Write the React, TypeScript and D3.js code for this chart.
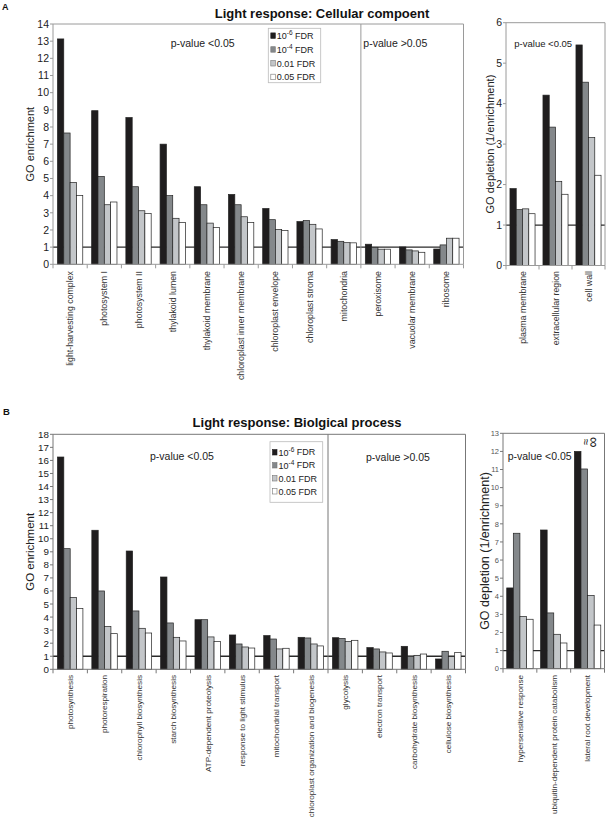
import React from 'react';
import * as d3 from 'd3';

const seriesColors = ['#1f1d1e', '#84888b', '#c3c6c9', '#ffffff'];
const legendTexts = [
  { base: '10', sup: '-6', rest: ' FDR' },
  { base: '10', sup: '-4', rest: ' FDR' },
  { base: '0.01', sup: '', rest: ' FDR' },
  { base: '0.05', sup: '', rest: ' FDR' },
];

// Panel A – cellular component enrichment
const ccCategories = ['light-harvesting complex', 'photosystem I', 'photosystem II', 'thylakoid lumen', 'thylakoid membrane', 'chloroplast inner membrane', 'chloroplast envelope', 'chloroplast stroma', 'mitochondria', 'peroxisome', 'vacuolar membrane', 'ribosome'];
const cc6 = [13.13, 8.95, 8.55, 7.0, 4.52, 4.07, 3.25, 2.49, 1.44, 1.17, 1.01, 0.89];
const cc4 = [7.65, 5.12, 4.52, 4.0, 3.47, 3.47, 2.6, 2.55, 1.34, 0.99, 0.84, 1.13];
const cc01 = [4.77, 3.47, 3.12, 2.68, 2.4, 2.77, 2.03, 2.33, 1.26, 0.88, 0.78, 1.52];
const cc05 = [4.0, 3.63, 2.96, 2.43, 2.15, 2.43, 1.97, 2.06, 1.25, 0.88, 0.7, 1.52];

// Panel A – depletion
const ccDepCategories = ['plasma membrane', 'extracellular region', 'cell wall'];
const ccDep6 = [1.9, 4.21, 5.45];
const ccDep4 = [1.38, 3.42, 4.53];
const ccDep01 = [1.4, 2.08, 3.16];
const ccDep05 = [1.28, 1.76, 2.23];

// Panel B – biological process enrichment
const bpCategories = ['photosynthesis', 'photorespiration', 'chlorophyll biosynthesis', 'starch biosynthesis', 'ATP-dependent proteolysis', 'response to light stimulus', 'mitochondrial transport', 'chloroplast organization and biogenesis', 'glycolysis', 'electron transport', 'carbohydrate biosynthesis', 'cellulose biosynthesis'];
const bp6 = [16.26, 10.65, 9.06, 7.07, 3.8, 2.63, 2.58, 2.45, 2.42, 1.66, 1.76, 0.79];
const bp4 = [9.24, 6.0, 4.47, 3.55, 3.8, 1.94, 2.32, 2.4, 2.37, 1.56, 1.0, 1.38];
const bp01 = [5.51, 3.29, 3.14, 2.45, 2.48, 1.71, 1.56, 1.94, 2.14, 1.33, 1.07, 0.97];
const bp05 = [4.65, 2.73, 2.78, 2.17, 2.14, 1.63, 1.61, 1.79, 2.22, 1.25, 1.17, 1.28];

// Panel B – depletion
const bpDepCategories = ['hypersensitive response', 'ubiquitin-dependent protein catabolism', 'lateral root development'];
const bpDep6 = [4.46, 7.66, 12.0];
const bpDep4 = [7.48, 3.08, 11.03];
const bpDep01 = [2.89, 1.9, 4.05];
const bpDep05 = [2.73, 1.42, 2.41];

const FONT = "'Liberation Sans', Arial, Helvetica, sans-serif";

type PanelProps = {
  categories: string[];
  series: number[][];
  x0: number; x1: number; yTop: number; yBottom: number; yMax: number;
  divider?: number;
  frameColor: string;
  tickFont: number; tickColor: string;
  labelTop: number; labelFont: number;
  ylabel: string; ylabelX: number; ylabelFont: number;
  padding: number;
};

function Panel(p: PanelProps) {
  const y = d3.scaleLinear().domain([0, p.yMax]).range([p.yBottom, p.yTop]);
  const xg = d3.scaleBand<string>().domain(p.categories).range([p.x0, p.x1]).paddingInner(p.padding).paddingOuter(p.padding / 2);
  const xs = d3.scaleBand<number>().domain(d3.range(p.series.length)).range([0, xg.bandwidth()]);
  const step = xg.step();
  const ticks = d3.range(0, p.yMax + 1);
  const boundaries = d3.range(0, p.categories.length + 1).map(i => p.x0 + i * step);
  const midY = (p.yTop + p.yBottom) / 2;
  return (
    <g>
      <line x1={p.x0} x2={p.x1} y1={y(1)} y2={y(1)} stroke="#2a2a2a" strokeWidth={1.3} />
      {p.categories.map((c, ci) => (
        <g key={c}>
          {p.series.map((s, si) => (
            <rect key={si} x={(xg(c) as number) + (xs(si) as number)} y={y(s[ci])} width={xs.bandwidth()} height={p.yBottom - y(s[ci])}
              fill={seriesColors[si]} stroke="#222" strokeWidth={0.7} />
          ))}
        </g>
      ))}
      <line x1={p.x0} x2={p.x1} y1={p.yTop} y2={p.yTop} stroke={p.frameColor} strokeWidth={1} />
      <line x1={p.x1} x2={p.x1} y1={p.yTop} y2={p.yBottom} stroke={p.frameColor} strokeWidth={1} />
      <line x1={p.x0} x2={p.x0} y1={p.yTop} y2={p.yBottom} stroke={p.frameColor} strokeWidth={1} />
      <line x1={p.x0} x2={p.x1} y1={p.yBottom} y2={p.yBottom} stroke={p.frameColor} strokeWidth={1} />
      {p.divider !== undefined && (
        <line x1={p.x0 + p.divider * step} x2={p.x0 + p.divider * step} y1={p.yTop} y2={p.yBottom} stroke={p.frameColor} strokeWidth={1} />
      )}
      {ticks.map(t => (
        <g key={t}>
          <line x1={p.x0 - 3} x2={p.x0} y1={y(t)} y2={y(t)} stroke={p.frameColor} />
          <text x={p.x0 - 4} y={y(t)} dy="0.36em" textAnchor="end" fontSize={p.tickFont} fill={p.tickColor} fontFamily={FONT}>{t}</text>
        </g>
      ))}
      {boundaries.map((b, i) => (
        <line key={i} x1={b} x2={b} y1={p.yBottom} y2={p.yBottom + 4} stroke={p.frameColor} />
      ))}
      {p.categories.map(c => (
        <text key={c} transform={`translate(${(xg(c) as number) + xg.bandwidth() / 2},${p.labelTop}) rotate(-90)`} dy="0.35em"
          textAnchor="end" fontSize={p.labelFont} fill="#333" fontFamily={FONT}>{c}</text>
      ))}
      <text transform={`translate(${p.ylabelX},${midY}) rotate(-90)`} textAnchor="middle" dy="0.35em" fontSize={p.ylabelFont} fill="#222" fontFamily={FONT}>{p.ylabel}</text>
    </g>
  );
}

function Legend({ x, y, w, h, rowY }: { x: number; y: number; w: number; h: number; rowY: number[] }) {
  return (
    <g>
      <rect x={x} y={y} width={w} height={h} fill="#fff" stroke="#bbb" strokeWidth={0.8} />
      {legendTexts.map((t, i) => (
        <g key={i}>
          <rect x={x + 2.5} y={rowY[i] - 2.8} width={4.5} height={5.5} fill={seriesColors[i]} stroke={i === 0 ? '#1f1d1e' : '#777'} strokeWidth={0.6} />
          <text x={x + 8.5} y={rowY[i]} dy="0.36em" fontSize={9} fill="#222" fontFamily={FONT}>
            {t.base}
            {t.sup && <tspan fontSize={6.5} dy="-0.6em">{t.sup}</tspan>}
            {t.sup ? <tspan dy="0.42em">{t.rest}</tspan> : <tspan>{t.rest}</tspan>}
          </text>
        </g>
      ))}
    </g>
  );
}

export default function App() {
  const pText = (x: number, yy: number, s: string, fs: number) => (
    <text x={x} y={yy} dy="0.36em" fontSize={fs} fill="#222" fontFamily={FONT}>{s}</text>
  );
  return (
    <svg width={606} height={822} style={{ position: 'absolute', left: 0, top: 0, background: '#fff' }}>
      <rect x={0} y={0} width={606} height={822} fill="#fff" />
      {/* Panel A */}
      <text x={2} y={9.5} fontSize={9} fontWeight="bold" fill="#111" fontFamily={FONT}>A</text>
      <text x={322} y={17.5} textAnchor="middle" fontSize={13} fontWeight="bold" fill="#111" fontFamily={FONT}>Light response: Cellular compoent</text>
      <Panel categories={ccCategories} series={[cc6, cc4, cc01, cc05]} x0={53} x1={463.5} yTop={24} yBottom={264.3} yMax={14}
        divider={9} frameColor="#9a9a9a" tickFont={10.5} tickColor="#222" labelTop={271} labelFont={8.8}
        ylabel="GO enrichment" ylabelX={30} ylabelFont={11} padding={0.26} />
      <Panel categories={ccDepCategories} series={[ccDep6, ccDep4, ccDep01, ccDep05]} x0={506} x1={605} yTop={22.7} yBottom={265.5} yMax={6}
        frameColor="#9a9a9a" tickFont={10.5} tickColor="#222" labelTop={271} labelFont={8.8}
        ylabel="GO depletion (1/enrichment)" ylabelX={490} ylabelFont={11} padding={0.24} />
      <Legend x={268.3} y={28.3} w={52.4} h={54.4} rowY={[35.7, 49.5, 63.3, 77]} />
      {pText(170.7, 43.3, 'p-value <0.05', 10.5)}
      {pText(363.3, 43.3, 'p-value >0.05', 10.5)}
      {pText(514.3, 44, 'p-value <0.05', 9.5)}

      {/* Panel B */}
      <text x={3} y={415} fontSize={9.5} fontWeight="bold" fill="#111" fontFamily={FONT}>B</text>
      <text x={297} y={427} textAnchor="middle" fontSize={13} fontWeight="bold" fill="#111" fontFamily={FONT}>Light response: Biolgical process</text>
      <Panel categories={bpCategories} series={[bp6, bp4, bp01, bp05]} x0={53} x1={465.5} yTop={434.3} yBottom={669.3} yMax={18}
        divider={8} frameColor="#777" tickFont={9.8} tickColor="#222" labelTop={675} labelFont={8.1}
        ylabel="GO enrichment" ylabelX={30} ylabelFont={11.5} padding={0.26} />
      <Panel categories={bpDepCategories} series={[bpDep6, bpDep4, bpDep01, bpDep05]} x0={503} x1={604.5} yTop={433.3} yBottom={668.7} yMax={13}
        frameColor="#777" tickFont={7.5} tickColor="#555" labelTop={675} labelFont={8.1}
        ylabel="GO depletion (1/enrichment)" ylabelX={485} ylabelFont={12.5} padding={0.22} />
      <Legend x={270} y={441.7} w={52.7} h={60.6} rowY={[452.3, 465.3, 478.3, 491.3]} />
      {pText(150, 456.7, 'p-value <0.05', 10.5)}
      {pText(366, 457.7, 'p-value >0.05', 10.5)}
      {pText(507.7, 456, 'p-value <0.05', 10.5)}
      <text transform="translate(594,442) rotate(90)" textAnchor="middle" dy="0.35em" fontSize={15} fill="#222" fontFamily={FONT}>∞</text>
      <text transform="translate(586,442) rotate(90)" textAnchor="middle" dy="0.35em" fontSize={12} fill="#222" fontFamily={FONT}>≈</text>
    </svg>
  );
}
